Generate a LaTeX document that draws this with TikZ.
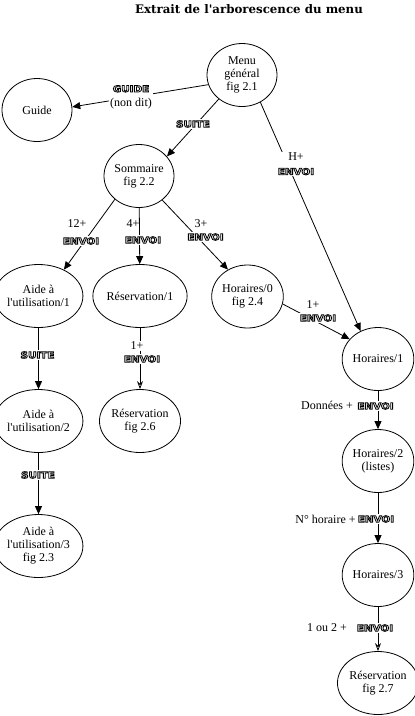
\documentclass[tikz,border=0pt]{standalone}
\usepackage{fontspec}
\setmainfont{Liberation Serif}
\newfontfamily\titlefont{DejaVu Serif}
\newfontfamily\keyfont{DejaVu Sans}
\usetikzlibrary{shapes.geometric,arrows.meta}
% outlined key caption (text rendering mode 1: stroked glyphs)
\newcommand\keylab[1]{\scalebox{1.15}[1]{\keyfont\bfseries\fontsize{9}{9}\selectfont\special{pdf:literal direct 1 Tr 0.75 w 0 G}#1\special{pdf:literal direct 0 Tr}}}
\tikzset{
  state/.style={ellipse, draw, line width=0.8pt, minimum width=70pt, minimum height=63pt,
    inner sep=0pt, align=center, font=\fontsize{12}{13}\selectfont},
  conn/.style={draw, line width=0.8pt, -{Triangle[width=7pt,length=8pt]}},
  hconn/.style={draw, line width=0.8pt, -{Stealth[open,width=6pt,length=8pt]}},
  lab/.style={font=\fontsize{12}{14}\selectfont, inner sep=1pt, align=center},
  key/.style={fill=white, inner sep=1.5pt, align=center, font=\fontsize{12}{14}\selectfont},
}
\begin{document}
\begin{tikzpicture}[x=1pt,y=-1pt]
\useasboundingbox (0,0) rectangle (415,716);
\node[font=\titlefont\bfseries\fontsize{11.8}{13}\selectfont] (title) at (249,9) {Extrait de l\textquotesingle arborescence du menu};

\node[state] (menu) at (242,75) {Menu\\général\\fig 2.1};
\node[state] (guide) at (37,110) {Guide};
\node[state] (som) at (139,176) {Sommaire\\fig 2.2};
\node[state] (a1) at (38.5,296) {Aide à\\l\textquotesingle utilisation/1};
\node[state] (a2) at (38.5,421) {Aide à\\l\textquotesingle utilisation/2};
\node[state] (a3) at (38.5,546) {Aide à\\l\textquotesingle utilisation/3\\fig 2.3};
\node[state] (r1) at (140,296) {Réservation/1};
\node[state] (r2) at (140,421) {Réservation\\fig 2.6};
\node[state] (h0) at (247.5,296.5) {Horaires/0\\fig 2.4};
\node[state] (h1) at (378,359) {Horaires/1};
\node[state] (h2) at (378,461) {Horaires/2\\(listes)};
\node[state] (h3) at (378,575) {Horaires/3};
\node[state] (r3) at (378,683) {Réservation\\fig 2.7};

\draw[conn] (menu.196) -- (guide.5);
\draw[conn] (menu.226) -- (som.35);
\draw[conn] (menu.-56) -- (h1.122);
\draw[conn] (som.224) -- (a1.46);
\draw[conn] (som) -- (r1);
\draw[conn] (som.-46) -- (h0.126);
\draw[conn] (a1) -- (a2);
\draw[conn] (a2) -- (a3);
\draw[hconn] (r1) -- (r2);
\draw[conn] (h0.-12) -- (h1.145);
\draw[conn] (h1) -- (h2);
\draw[conn] (h2) -- (h3);
\draw[hconn] (h3) -- (r3);

\node[key] (lguide) at (131,97) {\keylab{GUIDE}\\(non dit)};
\node[key] (lsuite0) at (193,124) {\keylab{SUITE}};
\node[key] (lh) at (296,164) {H+\\\keylab{ENVOI}};
\node[lab] (l12) at (77,224) {12+};
\node[key] (k12) at (81,241) {\keylab{ENVOI}};
\node[lab] (l4) at (133,224) {4+};
\node[key] (k4) at (143,240) {\keylab{ENVOI}};
\node[lab] (l3) at (201,224) {3+};
\node[key] (k3) at (205.5,237) {\keylab{ENVOI}};
\node[key] (lsuite1) at (37.5,355) {\keylab{SUITE}};
\node[key] (lsuite2) at (38,475) {\keylab{SUITE}};
\node[key] (l1r) at (137,346) {1+};
\node[key] (k1r) at (142,359) {\keylab{ENVOI}};
\node[key] (l1h) at (313,305) {1+};
\node[key] (k1h) at (318,318) {\keylab{ENVOI}};
\node[lab] (ldon) at (327,405) {Données +};
\node[key] (kdon) at (375.5,406) {\keylab{ENVOI}};
\node[lab] (lno) at (325.5,519) {N° horaire +};
\node[key] (kno) at (376,519) {\keylab{ENVOI}};
\node[lab] (lou) at (327,628) {1 ou 2 +};
\node[key] (kou) at (375,628) {\keylab{ENVOI}};
\end{tikzpicture}
\end{document}
